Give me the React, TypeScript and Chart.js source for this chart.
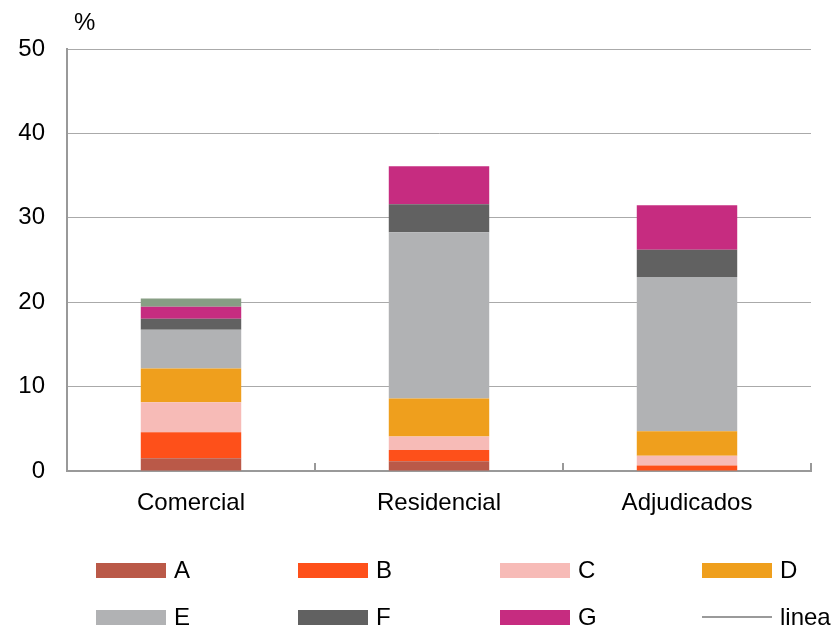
import React, { useEffect, useRef } from "react";
import { Chart, registerables } from "chart.js";

Chart.register(...registerables);

const categories = ["Comercial", "Residencial", "Adjudicados"];
const seriesA = [1.5, 1.15, 0];
const seriesB = [3.1, 1.35, 0.65];
const seriesC = [3.55, 1.6, 1.15];
const seriesD = [4.0, 4.5, 2.9];
const seriesE = [4.6, 19.7, 18.3];
const seriesF = [1.3, 3.3, 3.2];
const seriesG = [1.4, 4.5, 5.3];
const seriesH = [1.0, 0, 0];
const lineaValues: (number | null)[] = [null, null, null];
const yTicks = [0, 10, 20, 30, 40, 50];

const FONT = "'Liberation Sans', Arial, Helvetica, sans-serif";
const FS = 24;

const legendItems = [
  { label: "A", color: "#BA5948", kind: "box" },
  { label: "B", color: "#FE501A", kind: "box" },
  { label: "C", color: "#F7BBB7", kind: "box" },
  { label: "D", color: "#EF9F1D", kind: "box" },
  { label: "E", color: "#B1B2B4", kind: "box" },
  { label: "F", color: "#616161", kind: "box" },
  { label: "G", color: "#C62C80", kind: "box" },
  { label: "linea", color: "#9A9A9A", kind: "line" },
];

const innerTicks = {
  id: "innerTicks",
  afterDatasetsDraw(chart: any) {
    const x = chart.scales.x;
    const ctx = chart.ctx;
    const n = chart.data.labels.length;
    const bottom = chart.chartArea.bottom;
    ctx.save();
    ctx.strokeStyle = "#999999";
    ctx.lineWidth = 2;
    for (let i = 1; i <= n; i++) {
      const xx =
        i < n ? (x.getPixelForValue(i - 1) + x.getPixelForValue(i)) / 2 : x.right;
      ctx.beginPath();
      ctx.moveTo(xx, bottom - 8);
      ctx.lineTo(xx, bottom);
      ctx.stroke();
    }
    ctx.restore();
  },
};

export default function App() {
  const ref = useRef<HTMLCanvasElement>(null);

  useEffect(() => {
    document.body.style.margin = "0";
    const mk = (label: string, data: number[], color: string) => ({
      type: "bar" as const,
      label,
      data,
      backgroundColor: color,
      borderWidth: 0,
      barPercentage: 0.405,
      categoryPercentage: 1,
    });
    const chart = new Chart(ref.current as HTMLCanvasElement, {
      type: "bar",
      data: {
        labels: categories,
        datasets: [
          mk("A", seriesA, legendItems[0].color),
          mk("B", seriesB, legendItems[1].color),
          mk("C", seriesC, legendItems[2].color),
          mk("D", seriesD, legendItems[3].color),
          mk("E", seriesE, legendItems[4].color),
          mk("F", seriesF, legendItems[5].color),
          mk("G", seriesG, legendItems[6].color),
          mk("H", seriesH, "#879E84"),
          {
            type: "line" as const,
            label: "linea",
            data: lineaValues,
            borderColor: legendItems[7].color,
            borderWidth: 2,
            pointRadius: 0,
            stack: "line",
          } as any,
        ],
      },
      options: {
        responsive: false,
        animation: false,
        layout: { padding: { top: 49, right: 22, bottom: 99, left: 0 } },
        plugins: {
          legend: { display: false },
          tooltip: { enabled: false },
          title: { display: false },
        },
        scales: {
          x: {
            stacked: true,
            grid: { display: true, drawOnChartArea: false, drawTicks: false },
            border: { display: true, color: "#999999", width: 2 },
            ticks: {
              color: "#000",
              font: { family: FONT, size: FS },
              padding: 18,
              maxRotation: 0,
            },
            afterFit: (s: any) => {
              s.height = 60;
            },
          },
          y: {
            stacked: true,
            min: 0,
            max: 50,
            afterBuildTicks: (s: any) => {
              s.ticks = yTicks.map((v) => ({ value: v }));
            },
            grid: { color: "#AAAAAA", lineWidth: 1, drawTicks: false },
            border: { display: true, color: "#999999", width: 2 },
            ticks: {
              color: "#000",
              font: { family: FONT, size: FS },
              padding: 22,
            },
            afterFit: (s: any) => {
              s.width = 67;
            },
          },
        },
      },
      plugins: [innerTicks],
    } as any);
    return () => chart.destroy();
  }, []);

  return (
    <div style={{ position: "relative", width: 833, height: 630, fontFamily: FONT }}>
      <canvas ref={ref} width={833} height={630} style={{ display: "block" }} />
      <div
        style={{
          position: "absolute",
          left: 74,
          top: 10,
          fontSize: FS,
          lineHeight: "24px",
          color: "#000",
        }}
      >
        %
      </div>
      {legendItems.map((it, i) => {
        const col = i % 4;
        const row = Math.floor(i / 4);
        const left = 96 + col * 202;
        const cy = 570 + row * 47;
        return (
          <div
            key={it.label}
            style={{
              position: "absolute",
              left,
              top: cy - 14,
              height: 28,
              display: "flex",
              alignItems: "center",
              fontSize: FS,
              color: "#000",
              whiteSpace: "nowrap",
            }}
          >
            <span
              style={{
                display: "inline-block",
                width: 70,
                height: it.kind === "box" ? 15 : 2,
                background: it.color,
                marginRight: 8,
              }}
            />
            <span>{it.label}</span>
          </div>
        );
      })}
    </div>
  );
}
